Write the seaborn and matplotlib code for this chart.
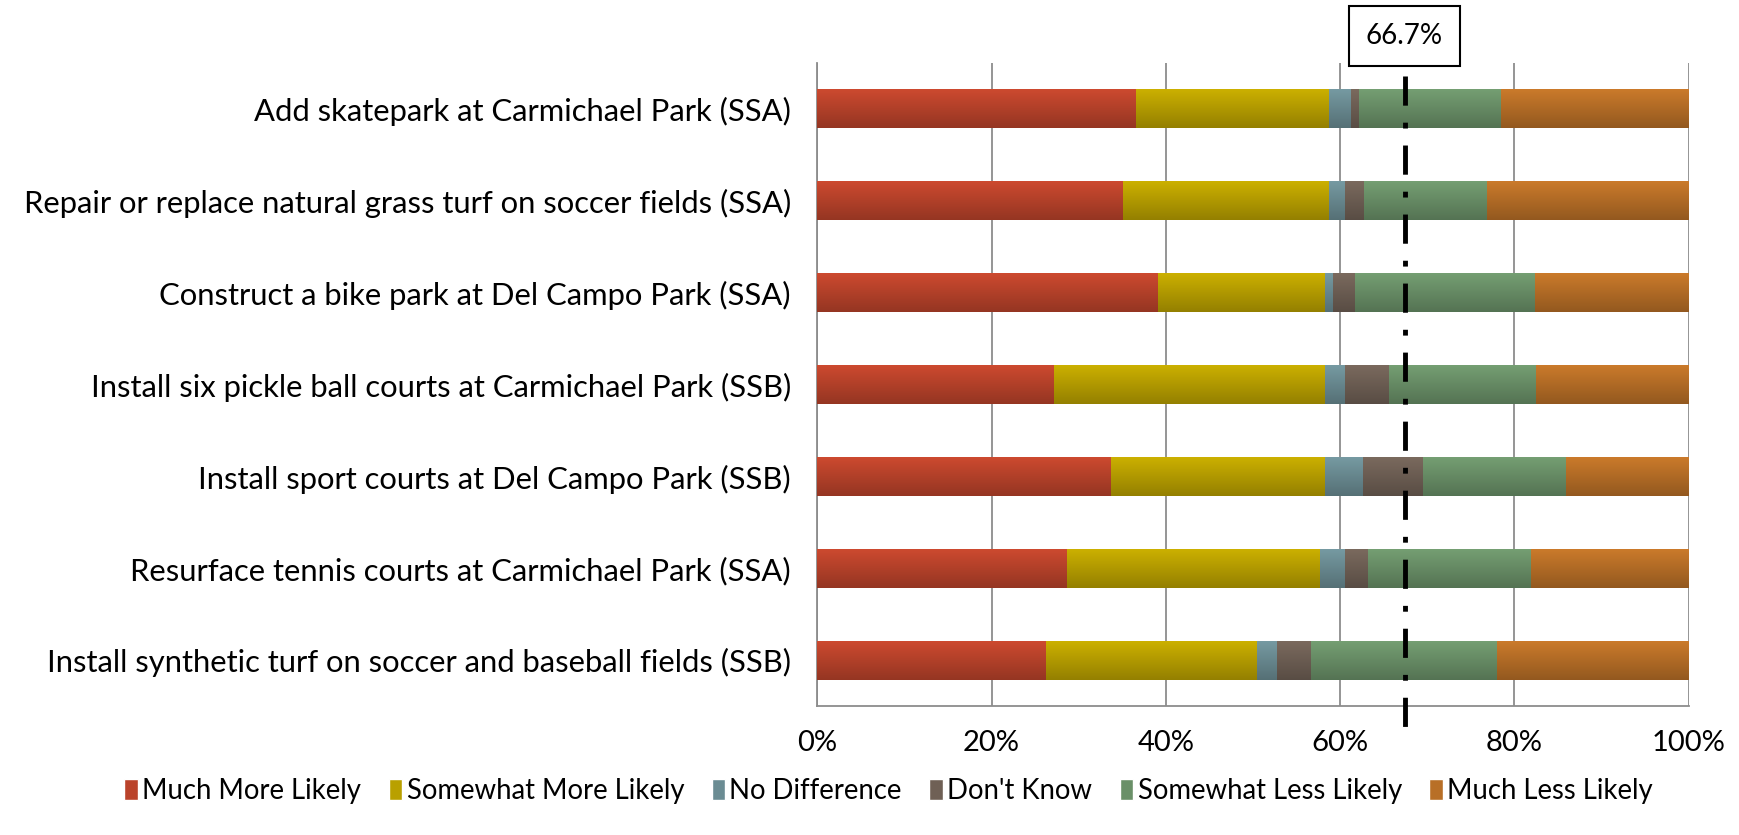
import numpy as np
import pandas as pd
import seaborn as sns
import matplotlib.pyplot as plt
import matplotlib.colors as mcolors

# ---- data ----
projects = [
    'Add skatepark at Carmichael Park (SSA)',
    'Repair or replace natural grass turf on soccer fields (SSA)',
    'Construct a bike park at Del Campo Park (SSA)',
    'Install six pickle ball courts at Carmichael Park (SSB)',
    'Install sport courts at Del Campo Park (SSB)',
    'Resurface tennis courts at Carmichael Park (SSA)',
    'Install synthetic turf on soccer and baseball fields (SSB)',
]
responses = ['Much More Likely', 'Somewhat More Likely', 'No Difference',
             "Don't Know", 'Somewhat Less Likely', 'Much Less Likely']

much_more = [36.6, 35.1, 39.1, 27.2, 33.7, 28.6, 26.2]
somewhat_more = [22.1, 23.6, 19.1, 31.0, 24.5, 29.1, 24.3]
no_difference = [2.5, 1.9, 1.0, 2.4, 4.4, 2.9, 2.2]
dont_know = [1.0, 2.1, 2.5, 5.0, 6.9, 2.6, 4.0]
somewhat_less = [16.2, 14.2, 20.6, 16.9, 16.4, 18.7, 21.3]
much_less = [21.6, 23.1, 17.7, 17.5, 14.1, 18.1, 22.0]

threshold_pos = 67.4
threshold_label = '66.7%'

colors = ['#BA432B', '#B9A000', '#6B8C93', '#6F6055', '#6A9068', '#B86F27']

df = pd.DataFrame({
    'project': projects,
    responses[0]: much_more,
    responses[1]: somewhat_more,
    responses[2]: no_difference,
    responses[3]: dont_know,
    responses[4]: somewhat_less,
    responses[5]: much_less,
})
cum = df[responses].cumsum(axis=1)

sns.set_style('white')
plt.rcParams['font.family'] = ['Lato', 'DejaVu Sans']
plt.rcParams['text.color'] = 'black'
plt.rcParams['xtick.labelcolor'] = 'black'
plt.rcParams['ytick.labelcolor'] = 'black'

fig = plt.figure(figsize=(17.39, 8.35), dpi=100)
ax = fig.add_axes([0.470, 0.154, 0.501, 0.771])

# stacked bars: draw cumulative totals from the right-most segment down
for k in range(len(responses) - 1, -1, -1):
    n_before = len(ax.patches)
    z = 3 + (5 - k) * 0.1
    sns.barplot(x=cum[responses[k]], y=df['project'], color=colors[k],
                orient='h', width=0.42, ax=ax, saturation=1)
    for p in ax.patches[n_before:]:
        p.set_zorder(z)
        p.set_edgecolor('none')
        # vertical shading, light on top and darker at the bottom
        base = np.array(mcolors.to_rgb(colors[k]))
        top = np.clip(base * 1.10, 0, 1)
        bot = base * 0.80
        grad = np.linspace(0, 1, 64)[:, None, None]
        img = top * (1 - grad) + bot * grad
        x0, y0 = p.get_x(), p.get_y()
        w, h = p.get_width(), p.get_height()
        im = ax.imshow(img, extent=(x0, x0 + w, y0 + h, y0), origin='upper',
                       aspect='auto', interpolation='bilinear', zorder=z + 0.05)
        im.set_clip_path(p)

ax.set_xlim(0, 100)
ax.set_ylim(len(projects) - 0.5, -0.5)

# axes styling
ax.set_xticks(np.arange(0, 101, 20))
ax.set_xticklabels([f'{v}%' for v in range(0, 101, 20)])
ax.grid(axis='x', color='#8C8C8C', linewidth=1.3, zorder=0)
ax.set_axisbelow(True)
for s in ['top', 'right']:
    ax.spines[s].set_visible(False)
for s in ['left', 'bottom']:
    ax.spines[s].set_color('#8C8C8C')
    ax.spines[s].set_linewidth(1.3)
ax.set_yticks(np.arange(-0.5, len(projects), 1.0), minor=True)
ax.tick_params(axis='y', which='major', length=0, pad=19, labelsize=22.3)
ax.tick_params(axis='y', which='minor', length=7, color='#8C8C8C', width=1.3)
ax.tick_params(axis='x', length=7, color='#8C8C8C', width=1.3, pad=10, labelsize=21)
ax.set_xlabel('')
ax.set_ylabel('')

# threshold marker
ax.plot([threshold_pos, threshold_pos], [-0.36, 6.72], color='black',
        linewidth=3.5, linestyle=(0, (6, 3.5, 1.2, 3.5)), clip_on=False, zorder=10)
ax.text(threshold_pos, -0.79, threshold_label, ha='center', va='center', fontsize=20,
        bbox=dict(boxstyle='square,pad=0.6', facecolor='white', edgecolor='black',
                  linewidth=1.5), zorder=11, clip_on=False)

# legend
leg_handles = [plt.Rectangle((0, 0), 1, 1, facecolor=c) for c in colors]
fig.legend(leg_handles, responses, loc='center', bbox_to_anchor=(0.511, 0.053),
           ncol=6, frameon=False, fontsize=19.8, handlelength=0.5, handleheight=0.8,
           handletextpad=0.15, columnspacing=1.0)

fig.savefig('out.png', dpi=100)
